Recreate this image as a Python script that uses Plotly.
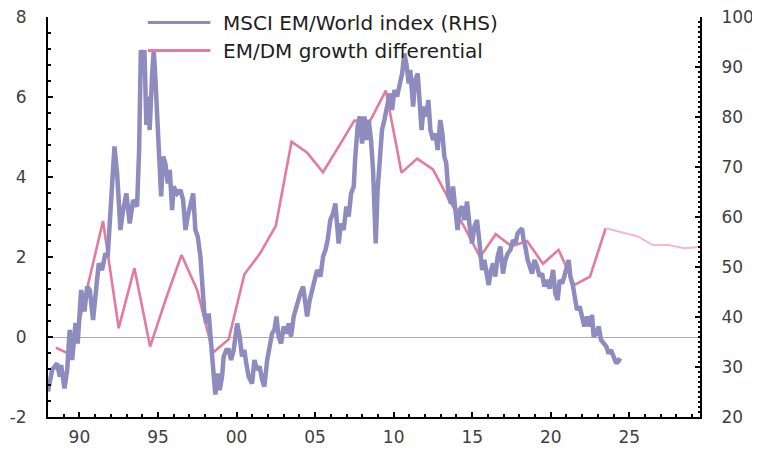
import plotly.graph_objects as go

# ---------------- data ----------------
growth_year = [1988.5, 1989.5, 1990.5, 1991.5, 1992.5, 1993.5, 1994.5, 1995.5, 1996.5, 1997.5,
               1998.5, 1999.5, 2000.5, 2001.5, 2002.5, 2003.5, 2004.5, 2005.5, 2006.5, 2007.5,
               2008.5, 2009.5, 2010.5, 2011.5, 2012.5, 2013.5, 2014.5, 2015.5, 2016.5, 2017.5,
               2018.5, 2019.5, 2020.5, 2021.5, 2022.5, 2023.5]
growth_value = [-0.27, -0.45, 1.23, 2.90, 0.22, 1.72, -0.24, 0.95, 2.05, 1.17,
                -0.39, -0.06, 1.57, 2.09, 2.78, 4.88, 4.61, 4.12, 4.76, 5.41,
                5.40, 6.16, 4.11, 4.46, 4.19, 3.45, 2.75, 2.00, 2.57, 2.27,
                2.40, 1.83, 2.18, 1.30, 1.51, 2.72]
forecast_year = [2023.5, 2024.5, 2025.5, 2026.5, 2027.5, 2028.5, 2029.5]
forecast_value = [2.72, 2.62, 2.52, 2.30, 2.30, 2.22, 2.25]

msci_year = [1988.00, 1988.26, 1988.58, 1988.75, 1988.84, 1989.05, 1989.22, 1989.38, 1989.54, 1989.75,
             1989.89, 1990.11, 1990.32, 1990.49, 1990.66, 1990.87, 1991.08, 1991.23, 1991.44, 1991.65,
             1991.80, 1991.93, 1992.08, 1992.23, 1992.40, 1992.61, 1992.78, 1992.99, 1993.20, 1993.42,
             1993.67, 1993.80, 1993.91, 1994.05, 1994.14, 1994.26, 1994.35, 1994.47, 1994.63, 1994.73,
             1994.84, 1994.98, 1995.11, 1995.20, 1995.33, 1995.47, 1995.62, 1995.75, 1995.90, 1996.00,
             1996.22, 1996.43, 1996.60, 1996.75, 1996.89, 1997.06, 1997.24, 1997.38, 1997.53, 1997.70,
             1997.83, 1997.95, 1998.08, 1998.23, 1998.38, 1998.51, 1998.65, 1998.80, 1998.93, 1999.08,
             1999.18, 1999.35, 1999.50, 1999.65, 1999.82, 2000.04, 2000.20, 2000.35, 2000.50, 2000.62,
             2000.77, 2000.99, 2001.14, 2001.31, 2001.47, 2001.63, 2001.77, 2001.95, 2002.11, 2002.26,
             2002.41, 2002.54, 2002.68, 2002.84, 2003.00, 2003.17, 2003.32, 2003.47, 2003.64, 2003.85,
             2004.06, 2004.24, 2004.36, 2004.49, 2004.66, 2004.81, 2004.96, 2005.13, 2005.34, 2005.51,
             2005.66, 2005.80, 2005.97, 2006.14, 2006.29, 2006.50, 2006.65, 2006.82, 2006.99, 2007.14,
             2007.29, 2007.46, 2007.56, 2007.71, 2007.84, 2007.99, 2008.14, 2008.26, 2008.41, 2008.56,
             2008.69, 2008.79, 2008.86, 2008.98, 2009.11, 2009.26, 2009.41, 2009.58, 2009.75, 2009.90,
             2010.05, 2010.22, 2010.38, 2010.54, 2010.68, 2010.81, 2010.96, 2011.06, 2011.24, 2011.38,
             2011.53, 2011.66, 2011.78, 2011.91, 2012.08, 2012.21, 2012.34, 2012.51, 2012.66, 2012.80,
             2012.97, 2013.10, 2013.23, 2013.35, 2013.50, 2013.65, 2013.78, 2013.93, 2014.07, 2014.20,
             2014.35, 2014.50, 2014.67, 2014.84, 2014.99, 2015.14, 2015.31, 2015.47, 2015.63, 2015.77,
             2015.90, 2016.05, 2016.20, 2016.33, 2016.47, 2016.62, 2016.79, 2016.96, 2017.11, 2017.26,
             2017.43, 2017.60, 2017.75, 2017.89, 2018.06, 2018.17, 2018.27, 2018.38, 2018.53, 2018.66,
             2018.81, 2018.96, 2019.13, 2019.29, 2019.45, 2019.59, 2019.76, 2019.93, 2020.15, 2020.29,
             2020.44, 2020.57, 2020.72, 2020.86, 2021.04, 2021.14, 2021.25, 2021.42, 2021.56, 2021.67,
             2021.84, 2021.99, 2022.14, 2022.31, 2022.47, 2022.63, 2022.73, 2022.90, 2023.05, 2023.20,
             2023.37, 2023.54, 2023.68, 2023.84, 2024.00, 2024.17, 2024.32, 2024.47]
msci_value = [25.1, 29.4, 30.7, 28.1, 30.4, 25.7, 29.4, 37.4, 31.4, 38.8,
              34.7, 45.4, 41.1, 46.1, 45.4, 39.4, 46.1, 50.7, 49.4, 52.7,
              52.1, 58.1, 65.4, 74.1, 68.7, 57.4, 61.4, 64.7, 58.7, 63.4,
              62.1, 73.4, 93.4, 88.7, 93.4, 78.4, 84.1, 77.4, 88.7, 93.4,
              87.4, 77.4, 72.1, 64.1, 72.1, 70.7, 66.7, 69.4, 61.4, 66.1,
              64.7, 65.4, 63.4, 57.4, 60.1, 62.7, 64.7, 57.4, 56.1, 52.1,
              46.7, 40.7, 38.7, 40.7, 34.7, 30.7, 24.5, 28.7, 25.4, 28.1,
              32.1, 33.4, 33.4, 31.4, 33.4, 38.7, 36.1, 32.1, 33.4, 30.7,
              28.1, 26.7, 31.4, 29.4, 30.1, 27.4, 26.1, 31.4, 34.7, 36.7,
              37.4, 40.1, 36.1, 34.7, 38.1, 36.7, 38.7, 36.1, 40.1, 42.7,
              44.7, 46.1, 42.7, 40.1, 43.4, 45.4, 46.7, 49.4, 48.1, 52.1,
              53.4, 55.4, 59.4, 60.7, 62.7, 54.7, 58.7, 57.4, 62.1, 60.1,
              64.7, 66.1, 72.1, 78.1, 80.1, 74.7, 80.1, 75.4, 79.4, 75.4,
              69.4, 62.7, 54.7, 65.4, 70.7, 77.4, 79.4, 82.7, 84.7, 81.4,
              85.4, 84.1, 86.7, 88.7, 92.7, 90.7, 86.7, 89.4, 82.1, 87.4,
              88.7, 84.1, 77.4, 82.1, 80.1, 83.4, 77.4, 75.4, 76.7, 73.4,
              79.4, 76.7, 72.1, 70.7, 64.1, 62.7, 66.1, 61.4, 57.4, 61.4,
              62.1, 59.4, 63.1, 58.1, 54.7, 58.1, 59.4, 54.7, 49.4, 51.4,
              48.7, 46.4, 49.4, 50.7, 48.1, 52.1, 54.1, 48.7, 51.4, 52.7,
              53.4, 55.4, 54.7, 56.7, 57.4, 57.7, 55.4, 54.1, 51.4, 50.1,
              48.7, 51.4, 50.1, 48.1, 48.7, 46.1, 47.4, 45.7, 49.4, 44.7,
              43.4, 47.4, 46.7, 48.1, 50.4, 51.4, 48.1, 46.1, 43.4, 41.4,
              42.1, 40.1, 38.1, 40.1, 38.1, 40.4, 36.1, 36.7, 38.1, 35.4,
              34.7, 34.1, 32.7, 33.4, 32.1, 30.7, 31.4, 31.1]

tick_years = [1990, 1995, 2000, 2005, 2010, 2015, 2020, 2025]
tick_labels = ["90", "95", "00", "05", "10", "15", "20", "25"]
left_ticks = [-2, 0, 2, 4, 6, 8]
left_tick_labels = ["-2", "0", "2", "4", "6", "8"]

series_names = ["MSCI EM/World index (RHS)", "EM/DM growth differential"]

# ---------------- styles ----------------
PURPLE = "#8E8CBE"
PINK = "#E47A9E"
LIGHT_PINK = "#F4B9CC"
TEXT = "#404040"
FONT = "DejaVu Sans"

fig = go.Figure()
fig.add_trace(go.Scatter(x=growth_year, y=growth_value, mode="lines", name=series_names[1],
                         line=dict(color=PINK, width=2.6), yaxis="y", showlegend=False))
fig.add_trace(go.Scatter(x=forecast_year, y=forecast_value, mode="lines", name="Forecast",
                         line=dict(color=LIGHT_PINK, width=2), yaxis="y", showlegend=False))
fig.add_trace(go.Scatter(x=msci_year, y=msci_value, mode="lines", name=series_names[0],
                         line=dict(color=PURPLE, width=4.5), yaxis="y2", showlegend=False))

# manual legend (longer line samples than Plotly's default)
legend_rows = [(0.986, PURPLE, series_names[0]), (0.916, PINK, series_names[1])]
for ypos, col, label in legend_rows:
    fig.add_shape(type="line", xref="paper", yref="paper", x0=0.153, x1=0.249, y0=ypos, y1=ypos,
                  line=dict(color=col, width=3))
    fig.add_annotation(xref="paper", yref="paper", x=0.266, y=ypos, text=label, showarrow=False,
                       xanchor="left", yanchor="middle", font=dict(family=FONT, size=20, color="#1e1e1e"))

axis_common = dict(showline=True, linecolor="black", linewidth=2, ticks="inside",
                   tickcolor="black", tickwidth=1.5, ticklen=5, showgrid=False, automargin=False,
                   ticklabeloverflow="allow",
                   tickfont=dict(family=FONT, size=17, color=TEXT))

# the page body has an 8px default margin, so the figure is sized 8px smaller
fig.update_layout(
    width=752, height=443,
    margin=dict(l=40, r=60, t=9, b=34),
    paper_bgcolor="white", plot_bgcolor="white",
    showlegend=False,
    xaxis=dict(range=[1988, 2029.5], tickvals=tick_years, ticktext=tick_labels,
               minor=dict(dtick=1, tick0=1988, ticks="inside", ticklen=3, tickcolor="black"),
               ticklabelstandoff=4, zeroline=False, **axis_common),
    yaxis=dict(range=[-2, 8], tickvals=left_ticks, ticktext=left_tick_labels,
               minor=dict(dtick=0.4, tick0=0, ticks="inside", ticklen=3, tickcolor="black"),
               zeroline=True, zerolinecolor="#B0B0B0", zerolinewidth=1,
               ticklabelstandoff=16, **axis_common),
    yaxis2=dict(range=[20, 100], dtick=10, tick0=0, overlaying="y", side="right",
                minor=dict(dtick=1, ticks="inside", ticklen=2, tickcolor="black"),
                zeroline=False, ticklabelstandoff=16, **axis_common),
)

fig.write_html("out.html")
